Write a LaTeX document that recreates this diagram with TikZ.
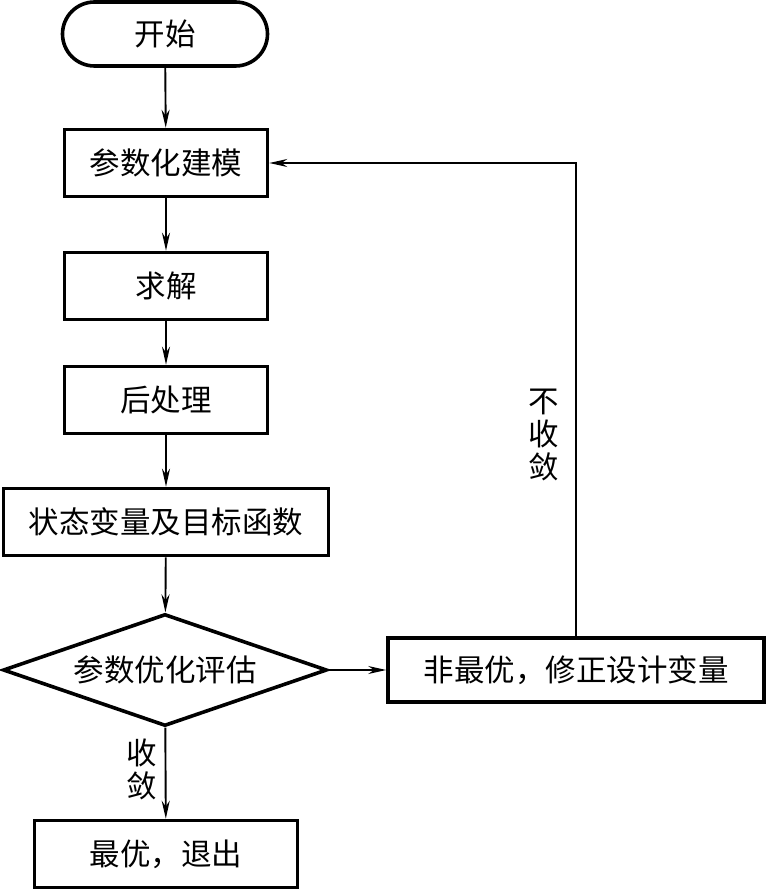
\documentclass[tikz,border=0pt]{standalone}
\usepackage{fontspec}
\newfontfamily\cjk{Noto Sans CJK SC}
\usepackage{tikz}
\usetikzlibrary{shapes, arrows.meta, positioning, shapes.geometric, shapes.misc, calc}
\tikzset{
  box/.style={shape=rectangle, draw, line width=3.6pt, minimum height=67pt, inner sep=0pt},
  term/.style={shape=rounded rectangle, draw, line width=3.6pt, minimum width=205pt, minimum height=64pt, inner sep=0pt},
  test/.style={shape=diamond, draw, line width=3.6pt, minimum width=324pt, minimum height=112pt, aspect=2.86, inner sep=0pt},
  flow/.style={line width=1.9pt, -{Stealth[length=18pt, width=8pt]}},
  back/.style={line width=1.5pt, -{Stealth[length=18pt, width=8pt]}}
}
\begin{document}
\begin{tikzpicture}[x=1pt, y=-1pt, font=\cjk\fontsize{30.5}{33}\selectfont]
				\useasboundingbox (0,0) rectangle (767,890);
				%nodes
				\draw (165,34) node [term] (start) {开始};
				\draw (166,163) node [box, minimum width=203pt] (model) {参数化建模};
				\draw (166,286) node [box, minimum width=203pt] (solve) {求解};
				\draw (166,400) node [box, minimum width=203pt] (post) {后处理};
				\draw (166,522) node [box, minimum width=325pt] (state) {状态变量及目标函数};
				\draw (165,670) node [test] (eval) {参数优化评估};
				\draw (576,670) node [box, minimum width=376pt, minimum height=64pt] (nonopt) {非最优，修正设计变量};
				\draw (166,854) node [box, minimum width=263pt] (exit) {最优，退出};
				
				%lines
				\draw [flow] (start) to (model);
				\draw [flow] (model) to (solve);
				\draw [flow] (solve) to (post);
				\draw [flow] (post) to (state);
				\draw [flow] (state) to (eval);
				\draw [flow] (eval) to (exit);
				\draw [back] (eval) to (nonopt);
				\draw [back] (nonopt.north) |- (model.east);
				
				%labels
				\draw (544,435) node [align=center] (nconv) {不\\收\\敛};
				\draw (142,769) node [align=center] (conv) {收\\敛};
\end{tikzpicture}
\end{document}
